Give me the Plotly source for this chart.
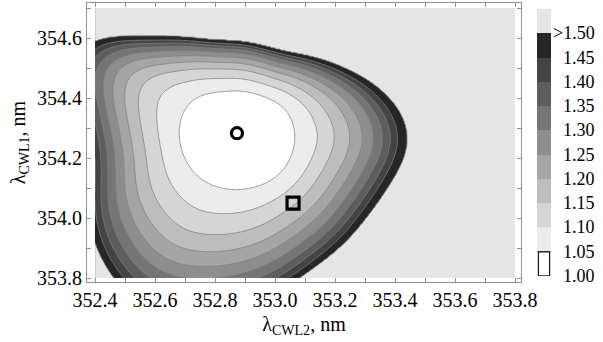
import numpy as np
import plotly.graph_objects as go

# ---------------- data ----------------
x_extent = [352.40, 353.80]          # lambda_CWL2 span of the computed map (nm)
y_extent = [353.80, 354.70]          # lambda_CWL1 span of the computed map (nm)
levels = [1.05, 1.10, 1.15, 1.20, 1.25, 1.30, 1.35, 1.40, 1.45, 1.50]
min_value = 1.00
center = [352.873, 354.267]          # location of the minimum (nm)
ray_angles = list(range(0, 360, 15))  # directions of the read-off rays (deg)
# distance (nm) from the centre to the 1.05 contour along each ray
inner_radius = [0.193, 0.192, 0.187, 0.174, 0.163, 0.158, 0.157, 0.161,
                0.173, 0.189, 0.197, 0.196, 0.192, 0.188, 0.185, 0.182,
                0.178, 0.174, 0.172, 0.173, 0.177, 0.183, 0.188, 0.191]
# distance (nm) from the centre to the 1.50 contour along each ray
outer_radius = [0.567, 0.523, 0.443, 0.377, 0.333, 0.320, 0.323, 0.340,
                0.390, 0.480, 0.593, 0.553, 0.503, 0.510, 0.565, 0.612,
                0.633, 0.600, 0.560, 0.527, 0.503, 0.500, 0.508, 0.537]
# relative position of the levels 1.05 ... 1.50 between inner and outer contour,
# read along the right, up, left and down rays
profile_angles = [0, 90, 180, 270]
level_profiles = [
    [0.0, 0.20, 0.35, 0.49, 0.60, 0.70, 0.78, 0.85, 0.915, 1.0],
    [0.0, 0.25, 0.43, 0.56, 0.67, 0.76, 0.83, 0.885, 0.935, 1.0],
    [0.0, 0.22, 0.39, 0.52, 0.63, 0.72, 0.80, 0.87, 0.930, 1.0],
    [0.0, 0.20, 0.37, 0.51, 0.63, 0.73, 0.815, 0.885, 0.945, 1.0],
]
circle_point = [352.873, 354.283]
square_point = [353.060, 354.050]
colorbar_labels = ["1.00", "1.05", "1.10", "1.15", "1.20", "1.25",
                   "1.30", "1.35", "1.40", "1.45", ">1.50"]
band_colors = ["#ffffff", "#ececec", "#d5d5d5", "#bdbdbd", "#a5a5a5", "#8d8d8d",
               "#757575", "#5d5d5d", "#444444", "#262626", "#e5e5e5"]

# ---------------- build the map grid from the read contours ----------------
xs = np.linspace(x_extent[0], x_extent[1], 351)
ys = np.linspace(y_extent[0], y_extent[1], 226)
X, Y = np.meshgrid(xs, ys)
dx = X - center[0]
dy = Y - center[1]
r = np.hypot(dx, dy)
th = np.degrees(np.arctan2(dy, dx)) % 360.0


def periodic_spline(values, theta):
    """periodic cubic spline through equally spaced samples over 0..360 deg"""
    v = np.asarray(values, dtype=float)
    n = v.shape[0]
    A = np.zeros((n, n))
    for i in range(n):
        A[i, i] = 4.0
        A[i, (i - 1) % n] = 1.0
        A[i, (i + 1) % n] = 1.0
    rhs = 6.0 * (np.roll(v, 1, axis=0) - 2 * v + np.roll(v, -1, axis=0))
    M = np.linalg.solve(A, rhs)          # second derivatives (unit spacing)
    u = theta / (360.0 / n)
    i0 = np.floor(u).astype(int) % n
    i1 = (i0 + 1) % n
    t = u - np.floor(u)
    if v.ndim > 1:
        t = t[..., None]
    return ((1 - t) * v[i0] + t * v[i1]
            + (((1 - t) ** 3 - (1 - t)) * M[i0] + (t ** 3 - t) * M[i1]) / 6.0)


Rin = periodic_spline(inner_radius, th)
Rout = periodic_spline(outer_radius, th)
prof = periodic_spline(np.array(level_profiles), th)

Rk = Rin[..., None] + (Rout - Rin)[..., None] * prof
Rk = np.maximum.accumulate(Rk, axis=-1) + np.arange(len(levels)) * 1e-6

lv = np.array(levels)
z = np.empty(r.shape)
inner = r <= Rk[..., 0]
z[inner] = min_value + (lv[0] - min_value) * (r[inner] / Rk[..., 0][inner]) ** 2
for k in range(len(levels) - 1):
    a = Rk[..., k]
    b = Rk[..., k + 1]
    m = (r > a) & (r <= b)
    z[m] = lv[k] + (lv[k + 1] - lv[k]) * (r[m] - a[m]) / (b[m] - a[m])
outer = r > Rk[..., -1]
z[outer] = np.minimum(lv[-1] + 0.5 * (r[outer] - Rk[..., -1][outer]), 1.7)
z = np.round(z, 4)

# discrete colour scale: 11 colours at positions k/10
cs = []
nb = len(band_colors)
for k, c in enumerate(band_colors):
    lo = max(0.0, (k - 0.5) / (nb - 1))
    hi = min(1.0, (k + 0.5) / (nb - 1))
    cs.append([lo, c])
    cs.append([hi, c])

font_family = "Liberation Serif, Times New Roman, serif"
frame_col = "#8f8f8f"

fig = go.Figure()
fig.add_trace(go.Contour(
    x=xs, y=ys, z=z.tolist(),
    contours=dict(start=levels[0], end=levels[-1], size=0.05,
                  coloring="fill", showlines=True),
    line=dict(color="#808080", width=0.8),
    colorscale=cs, showscale=False, hoverinfo="skip",
))
fig.add_trace(go.Scatter(
    x=[circle_point[0]], y=[circle_point[1]], mode="markers",
    marker=dict(symbol="circle-open", size=11, color="black",
                line=dict(width=3.2, color="black")),
    hoverinfo="skip", showlegend=False))
fig.add_trace(go.Scatter(
    x=[square_point[0]], y=[square_point[1]], mode="markers",
    marker=dict(symbol="square-open", size=12, color="black",
                line=dict(width=3.2, color="black")),
    hoverinfo="skip", showlegend=False))

# colour bar drawn as a heat map column
cb_vals = [min_value + 0.025 + 0.05 * k for k in range(len(band_colors))]
fig.add_trace(go.Heatmap(
    x=[0], y=cb_vals, z=[[v] for v in cb_vals],
    colorscale=cs, zmin=cb_vals[0], zmax=cb_vals[-1],
    showscale=False, hoverinfo="skip", xaxis="x2", yaxis="y2"))
fig.add_shape(type="rect", xref="x2", yref="y2", x0=-0.4, x1=0.4,
              y0=min_value, y1=levels[0], line=dict(color="#222222", width=1.3),
              fillcolor="white")

cb_ticks = [min_value] + levels
for v, lab in zip(cb_ticks, colorbar_labels):
    fig.add_annotation(x=1.028, xref="paper", y=v, yref="y2", text=lab,
                       showarrow=False, xanchor="right", yanchor="middle",
                       font=dict(family=font_family, size=18, color="black"))

axis_common = dict(
    showgrid=False, zeroline=False, showline=True, linecolor=frame_col,
    linewidth=1, mirror="ticks", ticks="inside", ticklen=4, tickcolor=frame_col,
    tickfont=dict(family=font_family, size=20, color="black"),
    tickformat=".1f",
    minor=dict(dtick=0.1, ticks="inside", ticklen=4, tickcolor=frame_col),
)
fig.update_layout(
    width=603, height=342,
    margin=dict(l=87, r=20, t=3, b=60),
    paper_bgcolor="white", plot_bgcolor="white",
    showlegend=False,
    xaxis=dict(domain=[0, 0.875], range=[352.373, 353.82], tick0=352.4, dtick=0.2,
               title=dict(text="λ<sub>CWL2</sub>, nm", standoff=6,
                          font=dict(family=font_family, size=20, color="black")),
               **axis_common),
    yaxis=dict(range=[353.787, 354.717], tick0=353.8, dtick=0.2,
               title=dict(text="λ<sub>CWL1</sub>, nm", standoff=6,
                          font=dict(family=font_family, size=20, color="black")),
               **axis_common),
    xaxis2=dict(domain=[0.9073, 0.9355], range=[-0.5, 0.5], visible=False,
                anchor="y2", fixedrange=True),
    yaxis2=dict(domain=[0.0215, 0.9785], range=[1.0, 1.55], visible=False,
                anchor="x2", fixedrange=True),
)
fig.write_html("out.html")
